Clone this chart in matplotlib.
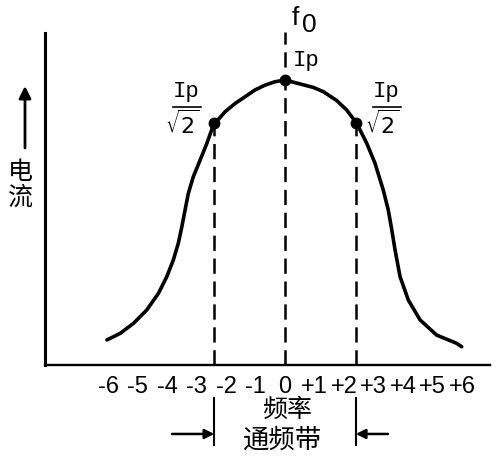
import matplotlib
matplotlib.use("Agg")
import matplotlib.pyplot as plt

# resonance curve (Ip = 1)
freq = [-6.04, -5.59, -5.14, -4.69, -4.29, -4.01, -3.79, -3.62, -3.50, -3.39,
        -3.28, -3.11, -2.88, -2.65, -2.43, -2.03, -1.69, -1.36, -1.02, -0.68,
        -0.34, 0.0, 0.96, 1.30, 1.75, 2.09, 2.43, 2.77, 3.05, 3.33,
        3.50, 3.62, 3.73, 3.90, 4.18, 4.58, 5.14, 5.82, 5.99]
current = [0.088, 0.111, 0.146, 0.193, 0.252, 0.310, 0.368, 0.427, 0.485, 0.544,
           0.602, 0.661, 0.719, 0.778, 0.842, 0.889, 0.918, 0.941, 0.965, 0.982,
           0.994, 1.0, 0.974, 0.959, 0.928, 0.895, 0.848, 0.778, 0.708, 0.614,
           0.544, 0.474, 0.404, 0.310, 0.228, 0.158, 0.105, 0.076, 0.064]

ticks = list(range(-6, 7))
tick_labels = ["-6", "-5", "-4", "-3", "-2", "-1", "0",
               "+1", "+2", "+3", "+4", "+5", "+6"]

mark_x = [-2.4, 0.0, 2.4]
mark_y = [0.85, 1.0, 0.85]
band = [-2.4, 2.4]

plt.rcParams["lines.scale_dashes"] = False
cjk = ["Noto Sans CJK SC", "DejaVu Sans"]
sans = ["Liberation Sans", "DejaVu Sans"]
dash = (11, 5.5)

W, H = 498, 459
fig = plt.figure(figsize=(W / 100, H / 100), dpi=100)
ax = fig.add_axes([45 / W, 1 - 365 / H, 445 / W, 332 / H])
ax.set_xlim(-8.14, 6.95)
ax.set_ylim(0, 1.165)

for s in ["top", "right"]:
    ax.spines[s].set_visible(False)
ax.spines["left"].set_linewidth(2.2)
ax.spines["bottom"].set_linewidth(1.7)

ax.plot(freq, current, color="black", lw=2.6, solid_joinstyle="round",
        solid_capstyle="round")
ax.plot(mark_x, mark_y, "o", color="black", ms=7.5)

# dashed verticals
ax.plot([0, 0], [0, 1.168], color="black", lw=1.8, dashes=dash,
        clip_on=False)
for x, y in zip([mark_x[0], mark_x[2]], [mark_y[0], mark_y[2]]):
    ax.plot([x, x], [0, y], color="black", lw=1.8, dashes=dash)

ax.set_xticks(ticks, tick_labels)
ax.set_yticks([])
ax.tick_params(axis="x", length=0, pad=8)
for lbl in ax.get_xticklabels():
    lbl.set_fontfamily(sans)
    lbl.set_fontsize(17)

# passband marks below the axis
for x in band:
    ax.plot([x, x], [-0.116, -0.281], color="black", lw=1.5, clip_on=False)
ax.annotate("", xy=(band[0], -0.242), xytext=(-3.83, -0.242),
            arrowprops=dict(arrowstyle="-|>", color="black", lw=1.8,
                            mutation_scale=14, shrinkA=0, shrinkB=0),
            annotation_clip=False)
ax.annotate("", xy=(band[1], -0.242), xytext=(3.49, -0.242),
            arrowprops=dict(arrowstyle="-|>", color="black", lw=1.8,
                            mutation_scale=14, shrinkA=0, shrinkB=0),
            annotation_clip=False)

ax.text(0.07, -0.158, "频率", ha="center", va="center", fontsize=18,
        family=cjk, clip_on=False)
ax.text(-0.1, -0.262, "通频带", ha="center", va="center", fontsize=19,
        family=cjk, clip_on=False)

# labels at the top
ax.text(0.34, 1.218, "f", ha="center", va="center", fontsize=19,
        family=sans, clip_on=False)
ax.text(0.81, 1.193, "0", ha="center", va="center", fontsize=19,
        family=sans, clip_on=False)
ax.text(0.71, 1.067, "Ip", ha="center", va="center", fontsize=16,
        family="Liberation Mono", clip_on=False)

for cx in [-3.39, 3.39]:
    ax.text(cx + 0.05, 0.961, "Ip", ha="center", va="center", fontsize=16,
            family="Liberation Mono")
    ax.plot([cx - 0.4, cx + 0.55], [0.905, 0.905], color="black", lw=1.2)
    ax.text(cx - 0.1, 0.846, r"$\sqrt{2}$", ha="center", va="center",
            fontsize=16)

# y arrow and label
fig.add_artist(plt.Annotation(
    "", xy=(25 / W, 1 - 86 / H), xytext=(25 / W, 1 - 148 / H),
    xycoords="figure fraction", textcoords="figure fraction",
    arrowprops=dict(arrowstyle="-|>", color="black", lw=2.0,
                    mutation_scale=18, shrinkA=0, shrinkB=0)))
fig.text(20 / W, 1 - 172 / H, "电", ha="center", va="center", fontsize=18,
         family=cjk)
fig.text(20 / W, 1 - 198 / H, "流", ha="center", va="center", fontsize=18,
         family=cjk)

fig.savefig("out.png", dpi=100)
